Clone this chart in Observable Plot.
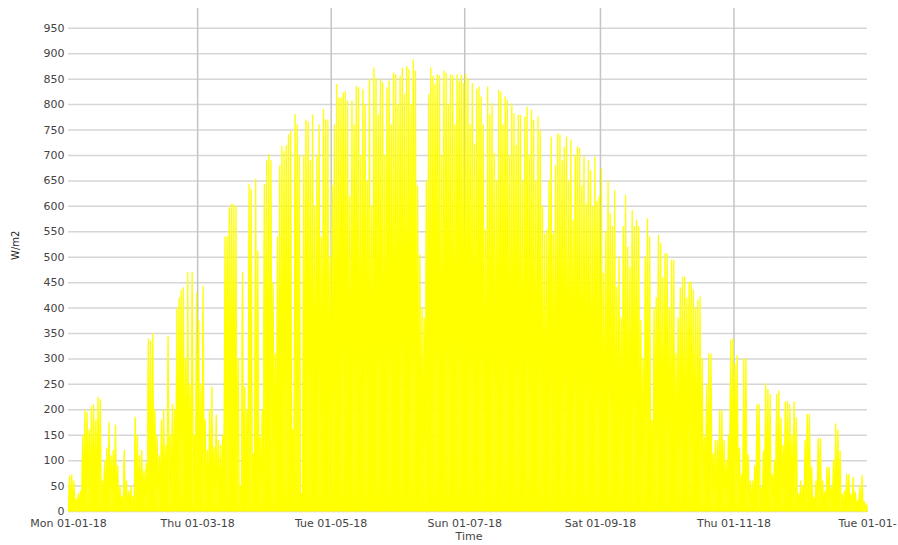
<!DOCTYPE html>
<html><head><meta charset="utf-8">
<script src="https://cdn.jsdelivr.net/npm/d3@7"></script>
<script src="https://cdn.jsdelivr.net/npm/@observablehq/plot@0.6"></script>
<style>body{margin:0;background:#fff;} svg{display:block;}</style>
</head><body><div id="chart"></div>
<script>
// Daily peak irradiance (W/m2), 2018-01-01 .. 2018-12-31
const dailyPeak = [
  70,72,60,25,35,40,150,200,
  195,160,205,210,180,225,220,60,100,125,
  175,110,120,170,90,50,30,120,60,40,
  50,30,185,150,110,120,80,95,340,335,
  350,200,150,110,180,200,130,345,150,210,
  200,400,420,435,440,300,470,250,470,150,
  430,375,250,443,180,120,200,245,126,190,
  140,130,150,540,540,597,604,604,600,300,
  50,470,245,200,643,633,113,653,512,146,
  200,643,690,702,690,450,310,540,680,718,
  708,720,741,748,160,781,760,700,35,700,
  770,765,690,780,600,700,760,540,790,770,
  770,500,640,760,840,813,813,823,826,807,
  620,807,760,836,833,700,830,800,650,849,
  600,872,852,780,849,843,700,833,846,760,
  862,859,800,856,872,820,875,869,800,888,
  866,640,505,400,380,650,820,872,856,840,
  859,856,700,866,862,800,859,856,760,859,
  846,858,841,860,851,760,841,723,830,835,
  815,760,553,835,780,802,704,650,828,825,
  760,815,808,700,802,782,720,779,779,650,
  776,795,700,789,769,650,776,749,600,546,
  553,650,736,546,680,743,740,690,717,736,
  650,730,572,700,717,714,640,697,605,690,
  670,600,697,610,620,674,468,550,650,585,
  560,631,441,500,380,560,622,520,480,592,
  560,573,560,376,300,500,576,540,179,400,
  420,543,527,460,507,507,400,494,494,310,
  380,440,461,461,420,451,451,435,400,415,422,
  300,146,250,310,310,113,140,140,199,199,
  140,100,150,337,340,290,307,125,73,300,
  300,112,60,60,90,210,210,47,119,251,
  240,230,73,100,230,237,184,130,216,216,
  210,150,216,184,34,60,50,140,191,191,
  87,28,60,143,143,60,40,87,87,47,
  100,172,160,119,34,40,73,73,34,67,
  38,22,50,71,20,15
];
const startDate = "2018-01-01";
const yTicks = [0,50,100,150,200,250,300,350,400,450,500,550,600,650,700,750,800,850,900,950];
const xTickDates = ["2018-01-01","2018-03-01","2018-05-01","2018-07-01","2018-09-01","2018-11-01","2019-01-01"];
const xTickLabels = ["Mon 01-01-18","Thu 01-03-18","Tue 01-05-18","Sun 01-07-18","Sat 01-09-18","Thu 01-11-18","Tue 01-01-"];
const gridDates = ["2018-03-01","2018-05-01","2018-07-01","2018-09-01","2018-11-01"];
const yLabel = "W/m2";
const xLabel = "Time";

const DAY = 864e5;
const t0 = new Date(startDate + "T00:00:00Z").getTime();
const points = dailyPeak.flatMap((v, i) => [
  {t: new Date(t0 + i * DAY), v: 0},
  {t: new Date(t0 + (i + 0.5) * DAY), v}
]).concat([{t: new Date(t0 + dailyPeak.length * DAY), v: 0}]);

const tickDates = xTickDates.map(d => new Date(d + "T00:00:00Z"));
const labelOf = new Map(tickDates.map((d, i) => [+d, xTickLabels[i]]));

const chart = Plot.plot({
  width: 898,
  height: 545,
  marginLeft: 68,
  marginRight: 31,
  marginTop: 8,
  marginBottom: 34,
  style: {fontFamily: "'DejaVu Sans', sans-serif", fontSize: "11px", color: "#444", background: "#fff"},
  x: {type: "utc", domain: [tickDates[0], tickDates[tickDates.length - 1]]},
  y: {domain: [0, 989]},
  marks: [
    Plot.ruleY(yTicks, {stroke: "#d6d6d6", strokeWidth: 1.5}),
    Plot.ruleX(gridDates.map(d => new Date(d + "T00:00:00Z")), {stroke: "#c4c4c4", strokeWidth: 1.5}),
    Plot.areaY(points, {x: "t", y: "v", fill: "#ffff00"}),
    Plot.lineY(points, {x: "t", y: "v", stroke: "#ffff00", strokeWidth: 1.3}),
    Plot.axisY(yTicks, {tickSize: 0, tickPadding: 4, label: null, fill: "#444"}),
    Plot.axisX(tickDates, {tickSize: 0, tickPadding: 8, label: null, fill: "#444", tickFormat: d => labelOf.get(+d)}),
    Plot.text([xLabel], {frameAnchor: "bottom", dy: 28, fontSize: 11, fill: "#444", dx: 1}),
    Plot.text([yLabel], {frameAnchor: "left", dx: -53, rotate: -90, fontSize: 10, fill: "#222"})
  ]
});
document.getElementById("chart").appendChild(chart);
</script>
</body></html>
